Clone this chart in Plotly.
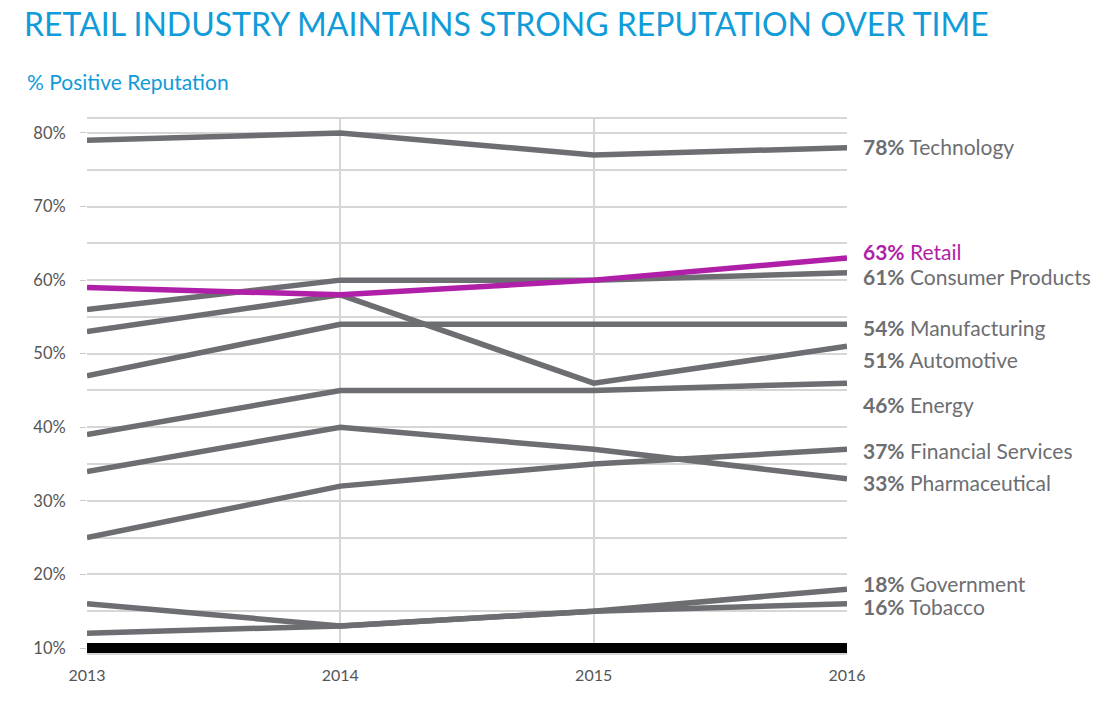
import plotly.graph_objects as go

# ---- data ----
years = [2013, 2014, 2015, 2016]
technology = [79, 80, 77, 78]
retail = [59, 58, 60, 63]
consumer_products = [56, 60, 60, 61]
automotive = [53, 58, 46, 51]
manufacturing = [47, 54, 54, 54]
energy = [39, 45, 45, 46]
pharmaceutical = [34, 40, 37, 33]
financial_services = [25, 32, 35, 37]
government = [12, 13, 15, 18]
tobacco = [16, 13, 15, 16]
baseline = [10, 10, 10, 10]
y_ticks = [10, 20, 30, 40, 50, 60, 70, 80]

GRAY = "#6d6e71"
MAGENTA = "#b01fa8"
BLUE = "#109bd9"
GRID = "#d6d6d6"
FONT = "Lato, 'Open Sans', sans-serif"

# (name, values, colour, label nudge in % units)
series = [
    ("Technology", technology, GRAY, 0.23),
    ("Consumer Products", consumer_products, GRAY, -0.57),
    ("Automotive", automotive, GRAY, -1.85),
    ("Manufacturing", manufacturing, GRAY, -0.5),
    ("Energy", energy, GRAY, -2.97),
    ("Pharmaceutical", pharmaceutical, GRAY, -0.57),
    ("Financial Services", financial_services, GRAY, -0.09),
    ("Government", government, GRAY, 0.7),
    ("Tobacco", tobacco, GRAY, -0.3),
    ("Retail", retail, MAGENTA, 0.83),
]

# layout geometry (body margin removed via post_script)
L, T, PW, PH = 87, 119, 760, 534

fig = go.Figure()

fig.add_trace(go.Scatter(x=years, y=baseline, mode="lines",
                         line=dict(color="black", width=10),
                         hoverinfo="skip", showlegend=False))

annotations = []
for name, vals, color, off in series:
    fig.add_trace(go.Scatter(x=years, y=vals, mode="lines", name=name,
                             line=dict(color=color, width=5.5),
                             showlegend=False))
    annotations.append(dict(
        x=years[-1], y=vals[-1] + off, xref="x", yref="y",
        text=f"<b>{vals[-1]}%</b> {name}", showarrow=False,
        xanchor="left", yanchor="middle", xshift=14,
        font=dict(family=FONT, size=21, color=color)))

annotations.append(dict(
    text="RETAIL INDUSTRY MAINTAINS STRONG REPUTATION OVER TIME",
    xref="paper", yref="paper", x=-65.5 / PW, y=1 + 95.5 / PH,
    xanchor="left", yanchor="middle", showarrow=False,
    font=dict(family=FONT, size=32, color=BLUE)))
annotations.append(dict(
    text="% Positive Reputation",
    xref="paper", yref="paper", x=-62.5 / PW, y=1 + 37 / PH,
    xanchor="left", yanchor="middle", showarrow=False,
    font=dict(family=FONT, size=21, color=BLUE)))

fig.update_layout(
    width=1113, height=710,
    margin=dict(l=L, r=1113 - L - PW, t=T, b=710 - T - PH),
    paper_bgcolor="white", plot_bgcolor="white",
    showlegend=False,
    annotations=annotations,
    font=dict(family=FONT, color="#555555"),
)

fig.update_xaxes(
    range=[2013, 2016], tickvals=years, ticktext=[str(y) for y in years],
    showgrid=True, gridcolor=GRID, gridwidth=1.5,
    showline=True, linecolor=GRID, mirror=True, linewidth=1.5,
    zeroline=False, ticks="", ticklabelstandoff=7,
    tickfont=dict(size=16, color="#555555"),
)
fig.update_yaxes(
    range=[9.32, 81.9], tickvals=y_ticks, ticktext=[f"{v}%" for v in y_ticks],
    showgrid=True, gridcolor=GRID, gridwidth=1.5,
    minor=dict(dtick=5, tick0=10, showgrid=True, gridcolor=GRID, gridwidth=1.5),
    showline=False, zeroline=False,
    ticks="outside", ticklen=6, tickcolor="#c8c8c8", ticklabelstandoff=11,
    tickfont=dict(size=16.5, color="#555555"),
)

fig.write_html("out.html", config={"displayModeBar": False},
               post_script="document.body.style.margin='0';")
